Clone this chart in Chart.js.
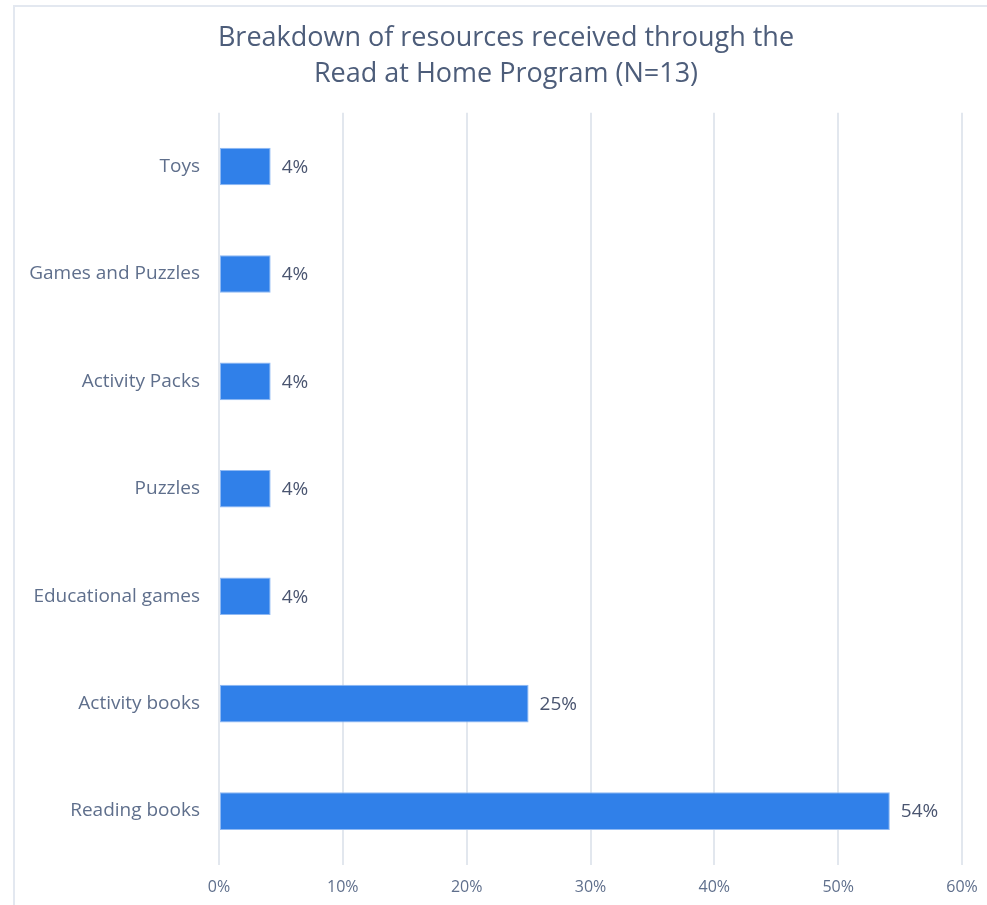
<!DOCTYPE html>
<html>
<head>
<meta charset="utf-8">
<script src="https://cdn.jsdelivr.net/npm/chart.js@4"></script>
<style>
  html, body { margin: 0; padding: 0; background: #fff; overflow: hidden; }
  .frame {
    position: absolute; left: 13px; top: 5px;
    width: 990px; height: 920px;
    border-left: 2px solid #e3e8f0; border-top: 2px solid #e3e8f0;
  }
  .wrap { position: absolute; left: 13px; top: 7px; width: 986px; height: 911px; }
</style>
</head>
<body>
<div class="frame"></div>
<div class="wrap"><canvas id="resChart"></canvas></div>
<script>
// 数据
const categories = ['Toys', 'Games and Puzzles', 'Activity Packs', 'Puzzles', 'Educational games', 'Activity books', 'Reading books'];
const shares = [4.17, 4.17, 4.17, 4.17, 4.17, 25, 54.17];
const xTicks = [0, 10, 20, 30, 40, 50, 60];
const titleLines = ['Breakdown of resources received through the', 'Read at Home Program (N=13)'];

const FONT = '"Open Sans", sans-serif';
const TEXT = '#4d5d7a';

// 柱子末端的百分比标签
const valueLabels = {
  id: 'valueLabels',
  afterDatasetsDraw(chart) {
    const ctx = chart.ctx;
    const meta = chart.getDatasetMeta(0);
    ctx.save();
    ctx.font = '19px ' + FONT;
    ctx.fillStyle = '#4a5570';
    ctx.textAlign = 'left';
    ctx.textBaseline = 'middle';
    meta.data.forEach((bar, i) => {
      ctx.fillText(Math.round(shares[i]) + '%', bar.x + 11, bar.y + 1);
    });
    ctx.restore();
  }
};

// 标题整体居中于画布（右侧留白会让它偏左，这里补回来）
const centerTitle = {
  id: 'centerTitle',
  afterLayout(chart) {
    if (chart.titleBlock) chart.titleBlock.left += 37;
  }
};

new Chart(document.getElementById('resChart'), {
  type: 'bar',
  data: {
    labels: categories,
    datasets: [{
      data: shares,
      backgroundColor: '#3080e9',
      borderColor: '#8fb9f3',
      borderWidth: 1,
      borderSkipped: false,
      barPercentage: 0.7,
      categoryPercentage: 0.5
    }]
  },
  options: {
    indexAxis: 'y',
    responsive: true,
    maintainAspectRatio: false,
    animation: false,
    layout: { padding: { right: 37, bottom: 8 } },
    plugins: {
      legend: { display: false },
      tooltip: { enabled: false },
      title: {
        display: true,
        text: titleLines,
        color: TEXT,
        font: { family: FONT, size: 27, weight: 'normal', lineHeight: 1.33 },
        padding: { top: 13, bottom: 21 }
      }
    },
    scales: {
      x: {
        min: 0,
        max: 60,
        afterBuildTicks(scale) {
          scale.ticks = xTicks.map(v => ({ value: v }));
        },
        grid: { color: '#e2e7ee', lineWidth: 2, drawTicks: false },
        border: { display: false },
        ticks: {
          color: '#5f6f8c',
          padding: 13,
          font: { family: FONT, size: 16 },
          callback: v => v + '%'
        }
      },
      y: {
        afterFit(scale) { scale.width = 206; },
        grid: { display: false },
        border: { display: false },
        ticks: {
          color: '#5f6f8c',
          padding: 11,
          font: { family: FONT, size: 19 }
        }
      }
    }
  },
  plugins: [valueLabels, centerTitle]
});
</script>
</body>
</html>
